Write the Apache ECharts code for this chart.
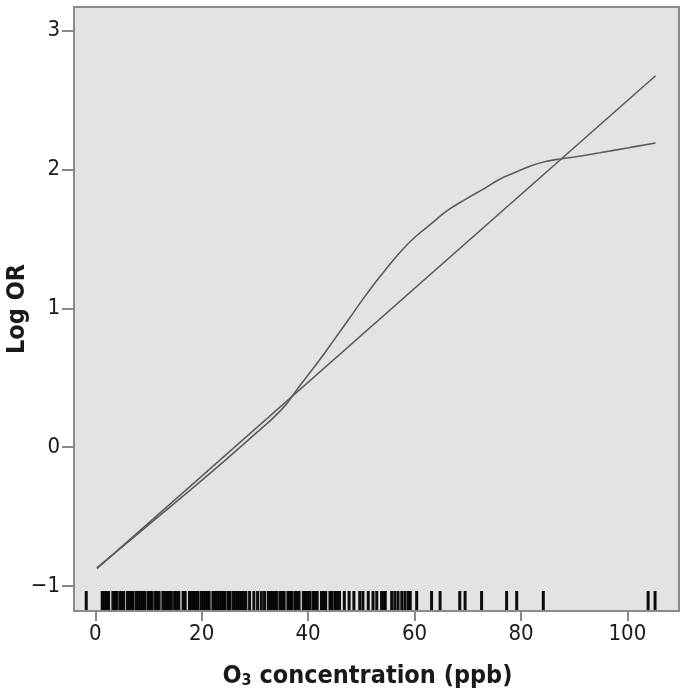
<!DOCTYPE html>
<html>
<head>
<meta charset="utf-8">
<script src="https://cdn.jsdelivr.net/npm/echarts@6/dist/echarts.min.js"></script>
<style>html,body{margin:0;padding:0;background:#fff}#c{width:691px;height:699px}</style>
</head>
<body>
<div id="c"></div>
<script>
// ---- data ----
const xTicks = [0, 20, 40, 60, 80, 100];
const yTicks = [-1, 0, 1, 2, 3];
const linearX = [0.3, 105.3];
const linearY = [-0.875, 2.675];
const smoothX = [0.3, 10, 20, 29, 35, 38.4, 42, 45, 47.8, 50, 52.2, 54.7, 57.2, 60, 63.5, 66, 69.8, 73, 76, 79, 82.2, 85, 87.3, 90, 94.8, 100, 105.3];
const smoothY = [-0.87, -0.56, -0.24, 0.06, 0.27, 0.44, 0.62, 0.78, 0.93, 1.05, 1.165, 1.285, 1.40, 1.51, 1.62, 1.70, 1.79, 1.86, 1.93, 1.98, 2.03, 2.06, 2.075, 2.09, 2.12, 2.155, 2.19];
const rugX = [-1.7,
  1.3,1.7,2.1,2.5, 3.3,3.7,4.0, 4.6,5.0,5.3, 6.0,6.4,6.8,7.1, 7.7,8.1,8.5,8.9,9.3,
  9.9,10.3,10.6, 11.2,11.6,12.0, 12.7,13.1,13.5,13.9,14.3, 14.9,15.3,15.7, 16.5,16.9,
  17.7,18.1,18.5,18.9,19.3, 19.9,20.3,20.7,21.1,21.4, 22.1,22.5,22.9,23.3,23.7,24.1,24.4,
  25.0,25.3, 25.9,26.3,26.7,27.1,27.5,27.9,28.3, 29.0,29.8,30.5,31.2,31.8,
  32.5,32.9,33.3,33.7,34.1, 34.7,35.1,35.5, 36.2,36.6,36.9, 37.5,37.9,38.3,
  39.1,39.5,39.9,40.3, 40.9,41.3,41.7, 42.5,42.9,43.3, 44.1,44.4, 45.0,45.4,45.9,
  46.8,47.7,48.6,49.7,50.3,51.3,52.2,52.9,53.8,54.3,54.5,55.7,56.3,56.9,57.6,58.2,58.8,59.2,60.4,
  63.2,64.8,68.5,69.5,72.6,77.3,79.2,84.2,103.9,105.2];

// ---- axis settings ----
const X_MIN = -4, X_MAX = 109.7;
const Y_MIN = -1.18, Y_MAX = 3.17;
const FONT = "'Liberation Sans Narrow', 'DejaVu Sans Condensed', 'Roboto Condensed', sans-serif";

const chart = echarts.init(document.getElementById('c'), null, {renderer: 'canvas'});
const zip = (a, b) => a.map((v, i) => [v, b[i]]);

chart.setOption({
  animation: false,
  backgroundColor: '#ffffff',
  grid: {
    left: 74, top: 7, right: 12, bottom: 88,
    containLabel: false, outerBoundsMode: 'none',
    show: true, backgroundColor: '#e3e3e3', borderColor: '#8a8a8a', borderWidth: 2
  },
  xAxis: {
    type: 'value', min: X_MIN, max: X_MAX,
    axisLine: {show: false, onZero: false},
    splitLine: {show: false},
    axisTick: {show: true, inside: false, length: 10, lineStyle: {color: '#888', width: 2}, customValues: xTicks},
    axisLabel: {customValues: xTicks, color: '#1a1a1a', fontSize: 22, fontFamily: FONT, margin: 12},
    name: '{a|O}{s|3}{a| concentration (ppb)}',
    nameLocation: 'middle', nameGap: 52, nameMoveOverlap: false,
    nameTextStyle: {
      padding: [0, 18, 0, 0],
      rich: {
        a: {fontSize: 25, fontWeight: 'bold', fontFamily: FONT, color: '#1a1a1a'},
        s: {fontSize: 16, fontWeight: 'bold', fontFamily: FONT, color: '#1a1a1a', verticalAlign: 'bottom', padding: [10, 0, 0, 0]}
      }
    }
  },
  yAxis: {
    type: 'value', min: Y_MIN, max: Y_MAX,
    axisLine: {show: false, onZero: false},
    splitLine: {show: false},
    axisTick: {show: true, inside: false, length: 12, lineStyle: {color: '#888', width: 2}, customValues: yTicks},
    axisLabel: {
      customValues: yTicks, color: '#1a1a1a', fontSize: 22, fontFamily: FONT, margin: 14,
      formatter: v => (v < 0 ? '\u2212' + Math.abs(v) : String(v))
    },
    name: 'Log OR', nameLocation: 'middle', nameGap: 44, nameRotate: 90, nameMoveOverlap: false,
    nameTextStyle: {fontSize: 25, fontWeight: 'bold', fontFamily: FONT, color: '#1a1a1a'}
  },
  series: [
    {
      type: 'line', data: zip(linearX, linearY), showSymbol: false, silent: true,
      lineStyle: {color: '#5c5c5c', width: 1.6}
    },
    {
      type: 'line', data: zip(smoothX, smoothY), showSymbol: false, smooth: 0.45, silent: true,
      lineStyle: {color: '#5c5c5c', width: 1.6}
    },
    {
      type: 'custom', silent: true,
      data: rugX.map(v => [v, Y_MIN]),
      encode: {x: 0, y: 1},
      renderItem: (params, api) => {
        const p = api.coord([api.value(0), api.value(1)]);
        return {
          type: 'line',
          shape: {x1: p[0], y1: p[1] - 1, x2: p[0], y2: p[1] - 20},
          style: {stroke: '#000', lineWidth: 3, opacity: 0.95}
        };
      }
    }
  ]
});
</script>
</body>
</html>
